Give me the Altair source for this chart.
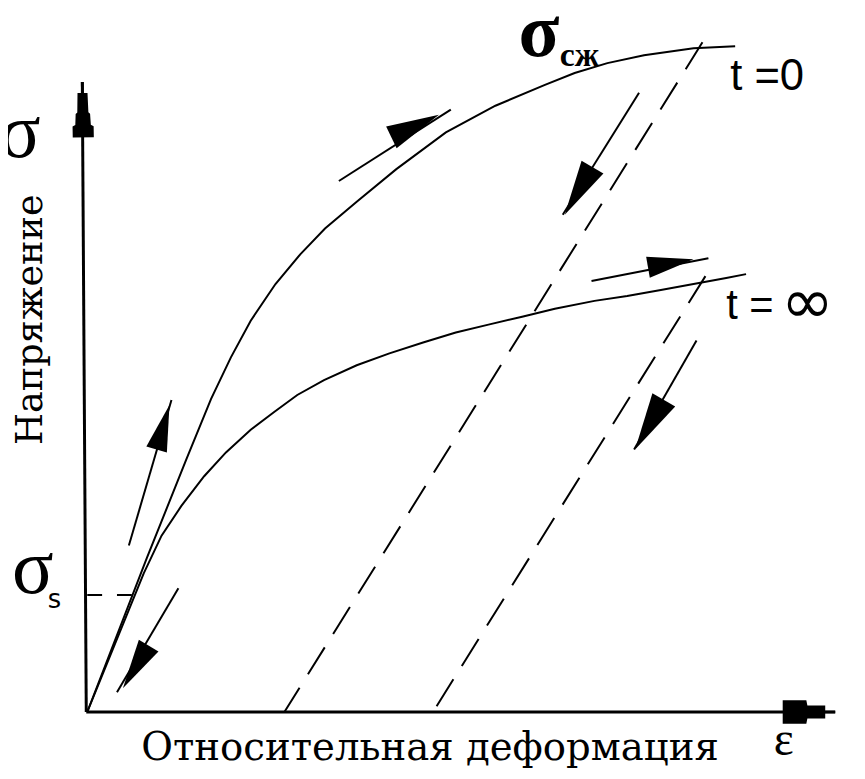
import math
import altair as alt
import pandas as pd

# ---- loading curves (strain eps, stress sigma, drawing units) ----
t0_eps = [0, 60, 100, 125, 145, 165, 190, 215, 240, 272, 312, 362, 412, 462, 492, 525, 562, 612, 654]
t0_sig = [0, 155, 255, 316, 358, 395, 432, 462, 488, 515, 548, 585, 612, 633, 645, 655, 663, 670, 672]
tinf_eps = [0, 57, 75, 95, 118, 140, 165, 189, 212, 239, 272, 305, 339, 372, 405, 439, 472, 512, 545, 579, 612, 645, 665]
tinf_sig = [0, 140, 178, 208, 238, 262, 285, 303, 320, 335, 350, 362, 373, 383, 391, 399, 407, 415, 420, 426, 432, 438, 442]

# ---- dashed unloading lines ----
unload_eps = [[621, 199], [624, 349]]
unload_sig = [[676, 0], [440, 0]]
# sigma_s level
sigs_eps = [0, 49]
sigs_sig = [118, 118]

# ---- solid direction guide lines ----
guide_eps = [[42, 85], [30, 92], [254, 367], [557, 480], [509, 627], [615, 552]]
guide_sig = [[168, 315], [20, 125], [536, 608], [625, 502], [435, 458], [375, 265]]

# ---- arrow heads on guide lines (base -> tip) ----
head_base_e = [70, 62, 307, 510, 566, 582]
head_base_s = [265, 67, 580, 550, 449, 315]
head_tip_e = [83, 36, 355, 482, 612, 553]
head_tip_s = [310, 24, 603, 502, 457, 265]

# ---- axes and their arrow heads ----
axis_eps = [[-1, -5], [-1, 755]]
axis_sig = [[0, 636], [0, 0]]
yhead_base_e, yhead_base_s, yhead_tip_e, yhead_tip_s = [-4], [580], [-5], [636]
xhead_base_e, xhead_base_s, xhead_tip_e, xhead_tip_s = [702], [0], [755], [0]

XS = alt.Scale(domain=[-80, 777], nice=False, zero=False)
YS = alt.Scale(domain=[-64, 707], nice=False, zero=False)
X = alt.X("e:Q", scale=XS, axis=None)
Y = alt.Y("s:Q", scale=YS, axis=None)


def seg_df(eps_lists, sig_lists):
    rows = []
    for g, (es, ss) in enumerate(zip(eps_lists, sig_lists)):
        for k, (e, s) in enumerate(zip(es, ss)):
            rows.append({"g": g, "k": k, "e": e, "s": s})
    return pd.DataFrame(rows)


def lines(df, width=2, dash=None):
    kw = dict(color="black", strokeWidth=width, strokeCap="butt")
    if dash:
        kw["strokeDash"] = dash
    return alt.Chart(df).mark_line(**kw).encode(
        x=X, y=Y, detail="g:N", order=alt.Order("k:Q"),
    )


def heads_df(be, bs, te, ts):
    rows = []
    for a, b, c, d in zip(be, bs, te, ts):
        de, ds = c - a, d - b
        rows.append({
            "e": (a + c) / 2, "s": (b + d) / 2,
            "size": de * de + ds * ds,
            "ang": math.degrees(math.atan2(de, ds)) % 360,
        })
    return pd.DataFrame(rows)


def heads(df, shape):
    return alt.Chart(df).mark_point(
        shape=shape, filled=True, color="black", opacity=1, strokeWidth=0
    ).encode(
        x=X, y=Y,
        size=alt.Size("size:Q", scale=None, legend=None),
        angle=alt.Angle("ang:Q", scale=None),
    )


curves = lines(seg_df([t0_eps, tinf_eps], [t0_sig, tinf_sig]), 2)
unload = lines(seg_df(unload_eps, unload_sig), 2, [32, 16])
sigs = lines(seg_df([sigs_eps], [sigs_sig]), 2, [15, 15])
guides = lines(seg_df(guide_eps, guide_sig), 2)
axes = lines(seg_df(axis_eps, axis_sig), 3)

wedge = "M0,-1L0.46,1L-0.46,1Z"
yshape = ("M0,-1L0.05,-1L0.05,-0.6L0.18,-0.6L0.2,0.1L0.26,0.15L0.28,0.55L0.38,0.6L0.38,1"
          "L-0.38,1L-0.38,0.6L-0.28,0.55L-0.26,0.15L-0.2,0.1L-0.18,-0.6L-0.05,-0.6L-0.05,-1Z")
xshape = ("M0,-1L0.05,-1L0.05,-0.62L0.25,-0.62L0.25,0.06L0.45,0.1L0.45,1"
          "L-0.45,1L-0.45,0.1L-0.25,0.06L-0.25,-0.62L-0.05,-0.62L-0.05,-1Z")
guide_heads = heads(heads_df(head_base_e, head_base_s, head_tip_e, head_tip_s), wedge)
y_head = heads(heads_df(yhead_base_e, yhead_base_s, yhead_tip_e, yhead_tip_s), yshape)
x_head = heads(heads_df(xhead_base_e, xhead_base_s, xhead_tip_e, xhead_tip_s), xshape)


def label(text, e, s, font, size, align="center", baseline="alphabetic", angle=0, weight="normal"):
    df = pd.DataFrame({"e": [e], "s": [s], "t": [text]})
    return alt.Chart(df).mark_text(
        font=font, fontSize=size, align=align, baseline=baseline, angle=angle,
        fontWeight=weight, color="black",
    ).encode(x=X, y=Y, text="t:N")


texts = [
    label("σ", -68, 560, "Liberation Serif", 78),
    label("σ", -55, 120, "Liberation Serif", 78),
    label("s", -33, 105, "DejaVu Sans", 26),
    label("σ", 456, 662, "Liberation Serif", 76, weight="bold"),
    label("сж", 477, 652, "Liberation Serif", 34, align="left", weight="bold"),
    label("t =0", 649, 628, "Liberation Sans", 44, align="left"),
    label("t =", 645, 397, "Liberation Sans", 42, align="left"),
    label("∞", 727, 393, "DejaVu Sans", 64),
    label("Напряжение", -46, 396, "DejaVu Serif", 37, angle=270),
    label("Относительная деформация", 346, -48, "DejaVu Serif", 39),
    label("ε", 703, -43, "Liberation Serif", 48),
]

chart = alt.layer(axes, curves, unload, sigs, guides, guide_heads, y_head, x_head, *texts).properties(
    width=857, height=771, padding=0, autosize="none"
).configure_view(stroke=None)

chart.save("out.html", embed_options={"renderer": "svg", "actions": False})
